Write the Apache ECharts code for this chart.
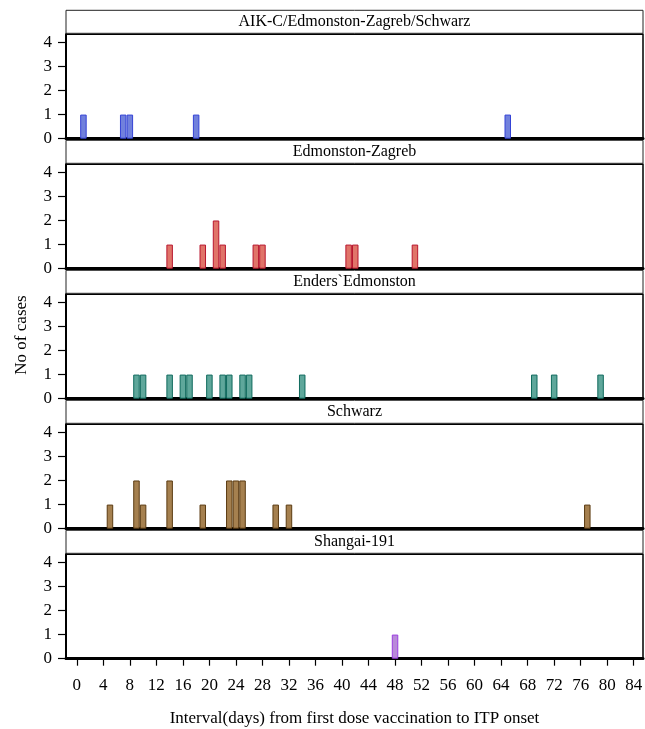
<!DOCTYPE html>
<html>
<head>
<meta charset="utf-8">
<script src="https://cdn.jsdelivr.net/npm/echarts@6/dist/echarts.min.js"></script>
<style>
html, body { margin: 0; padding: 0; background: #fff; }
#main { width: 645px; height: 729px; }
</style>
</head>
<body>
<div id="main"></div>
<script>
// panel titles
var panelNames = ['AIK-C/Edmonston-Zagreb/Schwarz', 'Edmonston-Zagreb', 'Enders`Edmonston', 'Schwarz', 'Shangai-191'];

// days from vaccination and number of cases, per vaccine strain
var aikDays = [1, 7, 8, 18, 65];
var aikCases = [1, 1, 1, 1, 1];
var ezDays = [14, 19, 21, 22, 27, 28, 41, 42, 51];
var ezCases = [1, 1, 2, 1, 1, 1, 1, 1, 1];
var eeDays = [9, 10, 14, 16, 17, 20, 22, 23, 25, 26, 34, 69, 72, 79];
var eeCases = [1, 1, 1, 1, 1, 1, 1, 1, 1, 1, 1, 1, 1, 1];
var schDays = [5, 9, 10, 14, 19, 23, 24, 25, 30, 32, 77];
var schCases = [1, 2, 1, 2, 1, 2, 2, 2, 1, 1, 1];
var shDays = [48];
var shCases = [1];

var xTicks = [0, 4, 8, 12, 16, 20, 24, 28, 32, 36, 40, 44, 48, 52, 56, 60, 64, 68, 72, 76, 80, 84];
var yTicks = [0, 1, 2, 3, 4];

var allDays = [aikDays, ezDays, eeDays, schDays, shDays];
var allCases = [aikCases, ezCases, eeCases, schCases, shCases];
var fills = ['#7181dc', '#e07469', '#5fa79b', '#a5804f', '#b98ad9'];
var borders = ['#3443d6', '#b8162e', '#0f6a5d', '#5b3b12', '#9a3ce0'];

var fontName = '"Liberation Serif", "DejaVu Serif", serif';
var left = 66, right = 643, step = 130;

var grids = [], xAxes = [], yAxes = [], series = [], graphics = [];

for (var i = 0; i < 5; i++) {
	var isLast = (i == 4);
	grids.push({
		left : left,
		width : right - left,
		top : 34.3 + step * i,
		height : 104.4,
		show : true,
		borderColor : '#000',
		borderWidth : 1.5,
		backgroundColor : '#fff',
		outerBoundsMode : 'none',
		containLabel : false
	});
	xAxes.push({
		type : 'value',
		gridIndex : i,
		min : -1.63,
		max : 85.4,
		splitLine : { show : false },
		axisLine : { show : true, onZero : false, lineStyle : { color : '#000', width : 3 } },
		axisTick : { show : isLast, length : 7, customValues : xTicks, lineStyle : { color : '#000', width : 1.2 } },
		axisLabel : {
			show : isLast,
			customValues : xTicks,
			margin : 18,
			color : '#000',
			fontFamily : fontName,
			fontSize : 17,
			formatter : function(v) { return v % 4 == 0 ? String(v) : ''; }
		},
		name : isLast ? 'Interval(days) from first dose vaccination to ITP onset' : '',
		nameLocation : 'middle',
		nameGap : 51,
		nameTextStyle : { color : '#000', fontFamily : fontName, fontSize : 17 }
	});
	yAxes.push({
		type : 'value',
		gridIndex : i,
		min : 0,
		max : 4.33,
		interval : 1,
		splitLine : { show : false },
		axisLine : { show : true, onZero : false, lineStyle : { color : '#000', width : 2 } },
		axisTick : { show : true, length : 8, customValues : yTicks, lineStyle : { color : '#000', width : 1.2 } },
		axisLabel : {
			customValues : yTicks,
			margin : 14,
			color : '#000',
			fontFamily : fontName,
			fontSize : 17,
			formatter : function(v) { return v % 1 == 0 ? String(v) : ''; }
		}
	});
	var pts = [];
	for (var j = 0; j < allDays[i].length; j++) {
		pts.push([allDays[i][j], allCases[i][j]]);
	}
	series.push({
		type : 'bar',
		xAxisIndex : i,
		yAxisIndex : i,
		barWidth : 6.5,
		data : pts,
		itemStyle : { color : fills[i], borderColor : borders[i], borderWidth : 1 },
		silent : true
	});
	// strip header above each panel
	graphics.push({
		type : 'rect',
		shape : { x : left, y : 10.3 + step * i, width : right - left, height : 23 },
		style : { fill : '#fff', stroke : '#222', lineWidth : 1 }
	});
	graphics.push({
		type : 'text',
		x : (left + right) / 2,
		y : 22 + step * i,
		style : {
			text : panelNames[i],
			fill : '#000',
			font : '16px ' + fontName,
			textAlign : 'center',
			textVerticalAlign : 'middle'
		}
	});
}

graphics.push({
	type : 'text',
	x : 22,
	y : 335,
	rotation : Math.PI / 2,
	style : {
		text : 'No of cases',
		fill : '#000',
		font : '17px ' + fontName,
		textAlign : 'center',
		textVerticalAlign : 'middle'
	}
});

var myChart = echarts.init(document.getElementById('main'));
myChart.setOption({
	animation : false,
	grid : grids,
	xAxis : xAxes,
	yAxis : yAxes,
	series : series,
	graphic : graphics
});
</script>
</body>
</html>
